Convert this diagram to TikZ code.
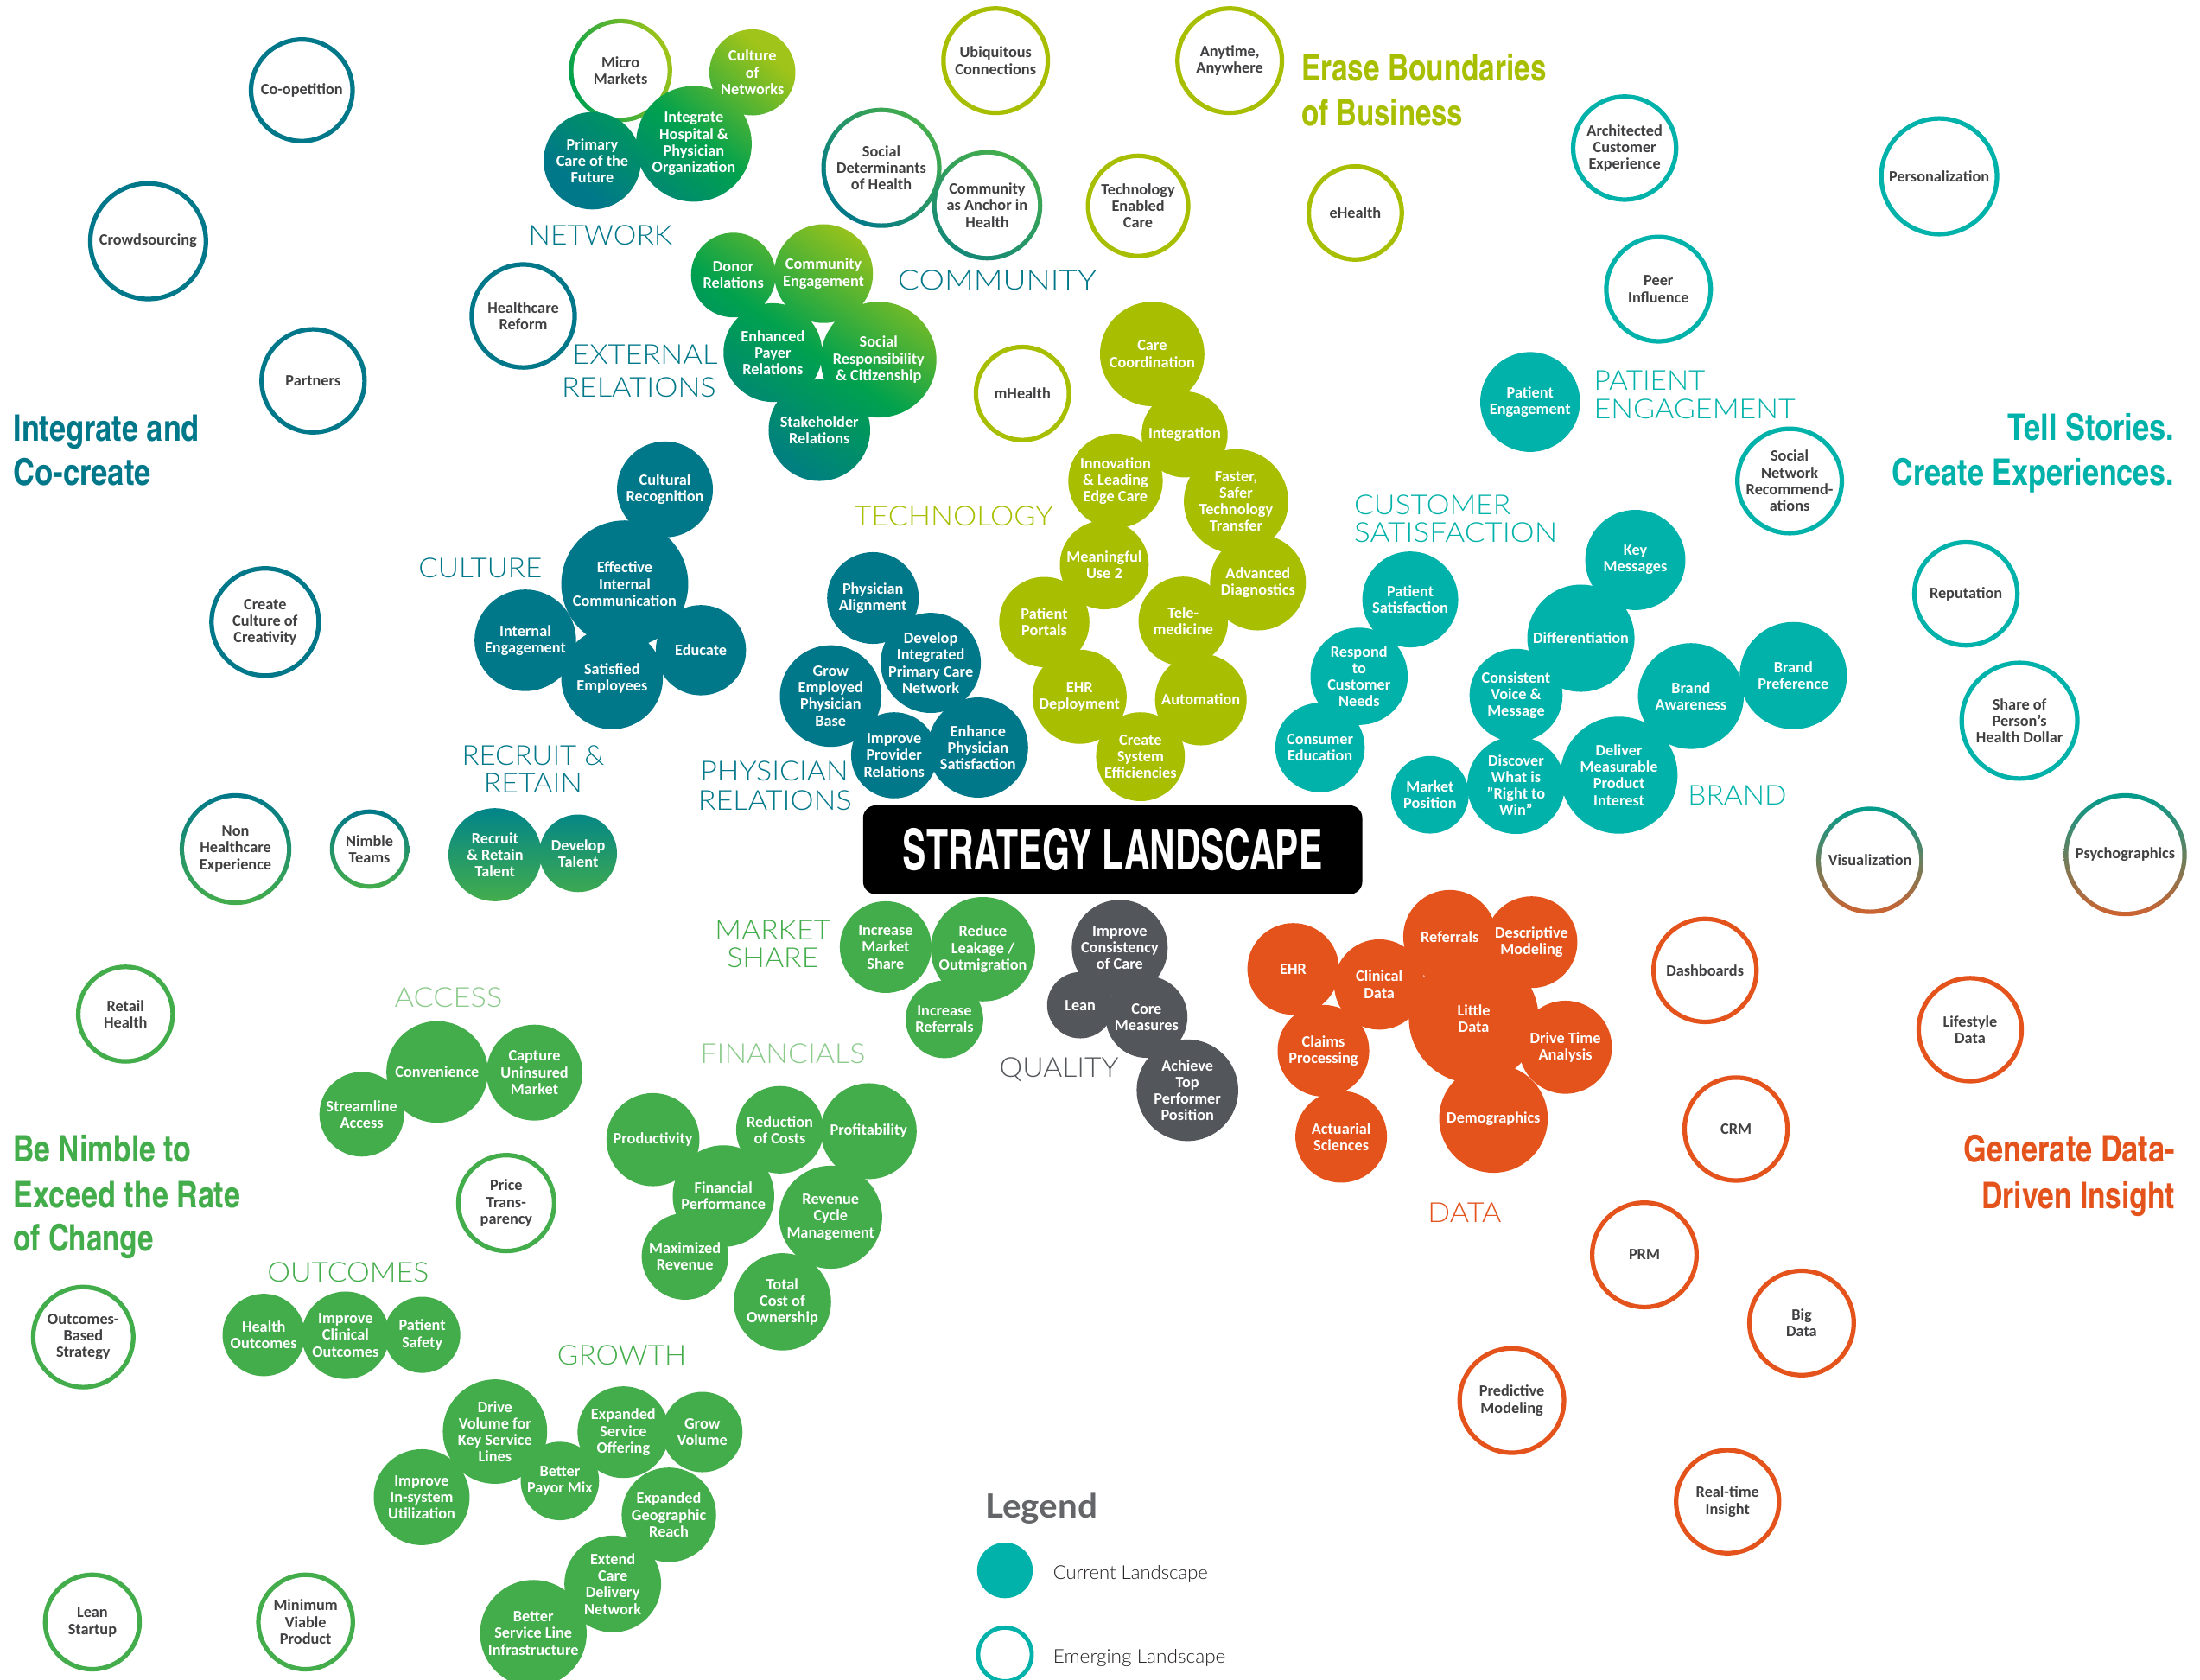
\documentclass[tikz,border=0pt]{standalone}
\usepackage{fontspec}
\usepackage{graphicx}
\setmainfont{Carlito}
\IfFontExistsTF{Lato Light}{\newfontfamily\grpfont{Lato Light}}{\newfontfamily\grpfont{Lato}}
\newfontfamily\legfont{Lato}
\newfontfamily\headfont{texgyreheroscn-bold.otf}
\definecolor{darkteal}{HTML}{00788A}
\definecolor{tealc}{HTML}{00B2A9}
\definecolor{limec}{HTML}{A8BE00}
\definecolor{greenc}{HTML}{44AD4B}
\definecolor{midgreen}{HTML}{00A14E}
\definecolor{limegreen}{HTML}{A0C419}
\definecolor{grayc}{HTML}{53565A}
\definecolor{orangec}{HTML}{E4531B}
\definecolor{lightgreen}{HTML}{8CCB8C}
\definecolor{labgray}{HTML}{404042}
\definecolor{leggray}{HTML}{646568}
\definecolor{vistop}{HTML}{009C8C}
\definecolor{visbot}{HTML}{CF6230}
\definecolor{recruittop}{HTML}{00848A}
\definecolor{nearblack}{HTML}{231F20}

\makeatletter
\newcommand\alltexts{}
\newcommand\addtext[1]{\g@addto@macro\alltexts{#1}}
\makeatother

\newsavebox\fitbox
\newcommand\fitw[2]{\sbox\fitbox{#2}\pgfmathsetmacro\fitsx{#1/\the\wd\fitbox}\scalebox{\fitsx}[1]{\usebox\fitbox}}
\newcommand\labfnt{\bfseries\fontsize{11.2}{11.8}\selectfont}

% filled (current) bubble: colour, name, position, radius, text
\newcommand\cb[5]{%
  \node[bub, fill=#1, minimum size=2*#4pt] (#2) at (#3) {};
  \addtext{\node[curtext] (t#2) at (#2) {#5};}}
% transparent bubble over a shaded cluster: name, position, radius, text
\newcommand\tb[4]{%
  \node[bub, minimum size=2*#3pt] (#1) at (#2) {};
  \addtext{\node[curtext] (t#1) at (#1) {#4};}}
% outlined (emerging) bubble: colour, name, position, radius, text
\newcommand\eb[5]{%
  \node[bub, draw=#1, line width=3.2pt, fill=white, minimum size=2*#4pt] (#2) at (#3) {};
  \addtext{\node[emgtext] (t#2) at (#2) {#5};}}
% outlined bubble with gradient ring: top, bottom, angle, name, position, radius, text
\newcommand\gb[7]{%
  \shade[top color=#1, bottom color=#2, shading angle=#3] (#5) circle[radius=#6pt+1.6pt];
  \node[bub, fill=white, minimum size=2*#6pt-3.2pt] (#4) at (#5) {};
  \addtext{\node[emgtext] (t#4) at (#4) {#7};}}

\begin{document}
\begin{tikzpicture}[x=1pt, y=-1pt,
  bub/.style={circle, inner sep=0pt, outer sep=0pt},
  curtext/.style={align=center, text=white, font=\labfnt, inner sep=0pt},
  emgtext/.style={align=center, text=labgray, font=\labfnt, inner sep=0pt},
  grp/.style={font=\grpfont\fontsize{19.5}{20}\selectfont, inner sep=0pt, anchor=base west},
  head/.style={font=\headfont\fontsize{26}{30}\selectfont, inner sep=0pt, anchor=base west},
  legtext/.style={font=\grpfont\fontsize{13.5}{14}\selectfont, inner sep=0pt, anchor=base west, text=nearblack}]
\fill[white] (0,0) rectangle (1560,1191);
\useasboundingbox (0,0) rectangle (1560,1191);

% ---------------- emerging landscape ----------------
\eb{darkteal}{coop}{214,64}{36}{Co-opetition}
\eb{darkteal}{crowd}{105,171}{41}{Crowdsourcing}
\eb{darkteal}{partners}{222,270}{36.5}{Partners}
\eb{darkteal}{hcreform}{371,224}{36.5}{Healthcare\\Reform}
\eb{darkteal}{creativity}{188,441}{38}{Create\\Culture of\\Creativity}
\gb{darkteal}{greenc}{0}{nonhc}{167,602}{38}{Non\\Healthcare\\Experience}
\gb{darkteal}{greenc}{0}{nimble}{262,602}{26.5}{Nimble\\Teams}
\eb{greenc}{retail}{89,719}{33.5}{Retail\\Health}
\eb{greenc}{outbased}{59,948}{35.5}{Outcomes-\\Based\\Strategy}
\eb{greenc}{leanstart}{65.5,1150}{33.5}{Lean\\Startup}
\eb{greenc}{mvp}{216.7,1150}{33.5}{Minimum\\Viable\\Product}
\eb{greenc}{price}{359,853}{34}{Price\\Trans-\\parency}
\gb{limegreen}{midgreen}{-70}{micro}{440,50}{35}{Micro\\Markets}
\eb{limec}{ubiq}{706,43}{37}{Ubiquitous\\Connections}
\eb{limec}{anytime}{872,43}{37}{Anytime,\\Anywhere}
\gb{greenc}{darkteal}{-45}{socdet}{625,119}{41}{Social\\Determinants\\of Health}
\gb{greenc}{darkteal!70!greenc}{-30}{commanchor}{700,145.5}{37.5}{Community\\as Anchor in\\Health}
\eb{limec}{techen}{807,146}{35.5}{Technology\\Enabled\\Care}
\eb{limec}{ehealth}{961,151}{33}{eHealth}
\eb{limec}{mhealth}{725,279}{33}{mHealth}
\eb{tealc}{archcx}{1152,105}{36.5}{Architected\\Customer\\Experience}
\eb{tealc}{personal}{1375,125}{41}{Personalization}
\eb{tealc}{peer}{1176,205}{37}{Peer\\Influence}
\eb{tealc}{socnet}{1269,341}{37}{Social\\Network\\Recommend-\\ations}
\eb{tealc}{reput}{1394,421}{36.5}{Reputation}
\eb{tealc}{shareof}{1432,511}{41}{Share of\\Person's\\Health Dollar}
\gb{vistop}{visbot}{0}{visual}{1326,610}{36.5}{Visualization}
\gb{vistop}{visbot}{0}{psycho}{1507,606}{42}{Psychographics}
\eb{orangec}{dashb}{1209,688}{36.5}{Dashboards}
\eb{orangec}{lifestyle}{1397,730}{36.5}{Lifestyle\\Data}
\eb{orangec}{crm}{1231,800.5}{36.5}{CRM}
\eb{orangec}{prm}{1166,889.7}{37}{PRM}
\eb{orangec}{bigdata}{1277.5,938}{37}{Big\\Data}
\eb{orangec}{predictive}{1072,993}{37}{Predictive\\Modeling}
\eb{orangec}{realtime}{1225,1064.7}{36.5}{Real-time\\Insight}

% ---------------- NETWORK (shaded) ----------------
\begin{scope}
\clip (533.5,51.3) circle[radius=30.5pt] (492,102) circle[radius=41pt] (420,114) circle[radius=34.5pt];
\shade[top color=limegreen, bottom color=darkteal, middle color=midgreen, shading angle=-40] (380,15) rectangle (568,150);
\end{scope}
\tb{culturenet}{533.5,51.3}{30.5}{Culture\\of\\Networks}
\tb{integrate}{492,102}{41}{Integrate\\Hospital \&\\Physician\\Organization}
\tb{primary}{420,114}{34.5}{Primary\\Care of the\\Future}

% ---------------- EXTERNAL RELATIONS (shaded) ----------------
\begin{scope}
\clip (520,195) circle[radius=30pt] (584,194) circle[radius=35pt] (548,250) circle[radius=35pt] (623,255) circle[radius=41pt] (581,305) circle[radius=36pt];
\shade[top color=limegreen, bottom color=darkteal, middle color=midgreen, shading angle=-35] (488,158) rectangle (666,342);
\end{scope}
\tb{donor}{520,195}{30}{Donor\\Relations}
\tb{commeng}{584,194}{35}{Community\\Engagement}
\tb{payer}{548,250}{35}{Enhanced\\Payer\\Relations}
\tb{socresp}{623,255}{41}{Social\\Responsibility\\\& Citizenship}
\tb{stakeholder}{581,305}{36}{Stakeholder\\Relations}

% ---------------- RECRUIT & RETAIN (shaded) ----------------
\begin{scope}
\clip (351,606) circle[radius=33pt] (410,605) circle[radius=27.5pt];
\shade[top color=recruittop, bottom color=greenc] (316,572) rectangle (440,640);
\end{scope}
\tb{recruit}{351,606}{33}{Recruit\\\& Retain\\Talent}
\tb{develop}{410,605}{27.5}{Develop\\Talent}

% ---------------- TECHNOLOGY ----------------
\cb{limec}{carecoord}{817,251}{37}{Care\\Coordination}
\cb{limec}{integration}{840,308}{30.5}{Integration}
\cb{limec}{innovation}{791,341}{33.5}{Innovation\\\& Leading\\Edge Care}
\cb{limec}{faster}{876.5,355.5}{37}{Faster,\\Safer\\Technology\\Transfer}
\cb{limec}{meaningful}{783,400.5}{31.5}{Meaningful\\Use 2}
\cb{limec}{advdiag}{892,413}{34}{Advanced\\Diagnostics}
\cb{limec}{portals}{740.5,441}{32}{Patient\\Portals}
\cb{limec}{telemed}{839,440.5}{31.7}{Tele-\\medicine}
\cb{limec}{ehrdep}{765.5,494}{33.4}{EHR\\Deployment}
\cb{limec}{automation}{851.5,496}{32.5}{Automation}
\cb{limec}{createsys}{808.7,536.5}{31.5}{Create\\System\\Efficiencies}

% ---------------- CULTURE ----------------
\cb{darkteal}{culturalrec}{471.5,347}{34}{Cultural\\Recognition}
\cb{darkteal}{effective}{443,414}{45}{Effective\\Internal\\Communication}
\cb{darkteal}{internaleng}{372.5,454}{36}{Internal\\Engagement}
\cb{darkteal}{educate}{497,461}{32}{Educate}
\cb{darkteal}{satisfied}{434,481}{36}{Satisfied\\Employees}

% ---------------- PHYSICIAN RELATIONS ----------------
\cb{darkteal}{physalign}{619,424}{32.5}{Physician\\Alignment}
\cb{darkteal}{devint}{660,470}{35.5}{Develop\\Integrated\\Primary Care\\Network}
\cb{darkteal}{growemp}{589,493.5}{36}{Grow\\Employed\\Physician\\Base}
\cb{darkteal}{improveprov}{634,535.5}{30.5}{Improve\\Provider\\Relations}
\cb{darkteal}{enhancephys}{693.5,530}{35.5}{Enhance\\Physician\\Satisfaction}

% ---------------- CUSTOMER SATISFACTION / PATIENT ENGAGEMENT ----------------
\cb{tealc}{patsat}{1000,425}{34}{Patient\\Satisfaction}
\cb{tealc}{respond}{963.7,479.5}{34.5}{Respond\\to\\Customer\\Needs}
\cb{tealc}{consumered}{936,530}{31.7}{Consumer\\Education}
\cb{tealc}{pateng}{1085,285}{35.4}{Patient\\Engagement}

% ---------------- BRAND ----------------
\cb{tealc}{keymsg}{1159.6,397}{35.5}{Key\\Messages}
\cb{tealc}{differ}{1121,452.5}{38}{Differentiation}
\cb{tealc}{consistent}{1075,493}{33}{Consistent\\Voice \&\\Message}
\cb{tealc}{brandaw}{1199,493.5}{37.5}{Brand\\Awareness}
\cb{tealc}{brandpref}{1271.6,479}{38}{Brand\\Preference}
\cb{tealc}{marketpos}{1014,563.5}{27.5}{Market\\Position}
\cb{tealc}{discover}{1075,556.7}{34.6}{Discover\\What is\\"Right to\\Win"}
\cb{tealc}{deliver}{1148,549.6}{41.5}{Deliver\\Measurable\\Product\\Interest}

% ---------------- MARKET SHARE ----------------
\cb{greenc}{incmkt}{628,671.5}{32.5}{Increase\\Market\\Share}
\cb{greenc}{reduceleak}{697,673}{37}{Reduce\\Leakage /\\Outmigration}
\cb{greenc}{incref}{669.7,722.7}{27.5}{Increase\\Referrals}

% ---------------- QUALITY ----------------
\cb{grayc}{improvecons}{794,672}{34}{Improve\\Consistency\\of Care}
\cb{grayc}{lean}{766,712.7}{23.5}{Lean}
\cb{grayc}{core}{813,721}{29}{Core\\Measures}
\cb{grayc}{achieve}{842,773}{36}{Achieve\\Top\\Performer\\Position}

% ---------------- DATA ----------------
\cb{orangec}{ehrdata}{917,687}{32.5}{EHR}
\cb{orangec}{clinical}{978,698}{32}{Clinical\\Data}
\cb{orangec}{referrals}{1028,664}{33}{Referrals}
\cb{orangec}{descriptive}{1086,668}{32.5}{Descriptive\\Modeling}
\cb{orangec}{littledata}{1045,722}{46}{Little\\Data}
\cb{orangec}{claims}{938.4,745}{32.5}{Claims\\Processing}
\cb{orangec}{drivetime}{1110,742.5}{33}{Drive Time\\Analysis}
\cb{orangec}{demographics}{1059,793}{38.5}{Demographics}
\cb{orangec}{actuarial}{951,806}{32.5}{Actuarial\\Sciences}

% ---------------- ACCESS ----------------
\cb{greenc}{convenience}{310,760}{36}{Convenience}
\cb{greenc}{capture}{379,760.5}{34}{Capture\\Uninsured\\Market}
\cb{greenc}{streamline}{256.5,790}{30}{Streamline\\Access}

% ---------------- FINANCIALS ----------------
\cb{greenc}{productivity}{463,808}{33}{Productivity}
\cb{greenc}{reduction}{553,801}{31}{Reduction\\of Costs}
\cb{greenc}{profitability}{616,802}{34}{Profitability}
\cb{greenc}{finperf}{513,848}{36}{Financial\\Performance}
\cb{greenc}{revenue}{589,863}{36.5}{Revenue\\Cycle\\Management}
\cb{greenc}{maximized}{485.7,890.8}{30.7}{Maximized\\Revenue}
\cb{greenc}{totalcost}{554.8,923}{34.5}{Total\\Cost of\\Ownership}

% ---------------- OUTCOMES ----------------
\cb{greenc}{healthout}{187,946.5}{29.2}{Health\\Outcomes}
\cb{greenc}{improveclin}{245,946.7}{31}{Improve\\Clinical\\Outcomes}
\cb{greenc}{patsafety}{299.4,946.4}{27}{Patient\\Safety}

% ---------------- GROWTH ----------------
\cb{greenc}{drivevol}{351,1015}{37}{Drive\\Volume for\\Key Service\\Lines}
\cb{greenc}{insystem}{299,1061.5}{34}{Improve\\In-system\\Utilization}
\cb{greenc}{payormix}{397,1050}{27.8}{Better\\Payor Mix}
\cb{greenc}{expserv}{442,1015.4}{32.5}{Expanded\\Service\\Offering}
\cb{greenc}{growvol}{498,1015.3}{28.5}{Grow\\Volume}
\cb{greenc}{expgeo}{474.3,1074}{33.5}{Expanded\\Geographic\\Reach}
\cb{greenc}{extendcare}{434.5,1123}{34.3}{Extend\\Care\\Delivery\\Network}
\cb{greenc}{betterserv}{378.2,1158}{37.8}{Better\\Service Line\\Infrastructure}

% ---------------- title box ----------------
\node[fill=black, rounded corners=9pt, minimum width=354pt, minimum height=63pt, inner sep=0pt,
      text=white, font=\headfont\fontsize{40}{40}\selectfont] (title) at (789,602.5)
      {\fitw{297.5}{STRATEGY LANDSCAPE}};

% ---------------- bubble texts ----------------
\alltexts

% ---------------- group labels ----------------
\node[grp, text=darkteal] (gnet) at (374.6,173.6) {\fitw{102}{NETWORK}};
\node[grp, text=darkteal, anchor=base east] (gext1) at (509,258) {\fitw{103}{EXTERNAL}};
\node[grp, text=darkteal, anchor=base east] (gext2) at (508,281.5) {\fitw{109.5}{RELATIONS}};
\node[grp, text=darkteal] (gcom) at (636.4,205.3) {\fitw{141}{COMMUNITY}};
\node[grp, text=limec] (gtech) at (605.5,373) {\fitw{141}{TECHNOLOGY}};
\node[grp, text=darkteal] (gcult) at (296.6,409.7) {\fitw{87.6}{CULTURE}};
\node[grp, text=darkteal, anchor=base] (grec1) at (378,542.3) {\fitw{101}{RECRUIT \&}};
\node[grp, text=darkteal, anchor=base] (grec2) at (378,562) {\fitw{70}{RETAIN}};
\node[grp, text=darkteal, anchor=base] (gphy1) at (549,553.7) {\fitw{105}{PHYSICIAN}};
\node[grp, text=darkteal, anchor=base] (gphy2) at (549.5,574.7) {\fitw{109}{RELATIONS}};
\node[grp, text=tealc] (gcus1) at (960,364.6) {\fitw{111}{CUSTOMER}};
\node[grp, text=tealc] (gcus2) at (960,384.4) {\fitw{144}{SATISFACTION}};
\node[grp, text=tealc] (gpat1) at (1130,276.5) {\fitw{79}{PATIENT}};
\node[grp, text=tealc] (gpat2) at (1130,296.8) {\fitw{143}{ENGAGEMENT}};
\node[grp, text=tealc] (gbrand) at (1196.7,570.5) {\fitw{70}{BRAND}};
\node[grp, text=greenc, anchor=base] (gmkt1) at (548,666.3) {\fitw{82}{MARKET}};
\node[grp, text=greenc, anchor=base] (gmkt2) at (548,686) {\fitw{65}{SHARE}};
\node[grp, text=grayc] (gqual) at (708.5,764) {\fitw{84.5}{QUALITY}};
\node[grp, text=orangec] (gdata) at (1012.3,866.4) {\fitw{52}{DATA}};
\node[grp, text=lightgreen] (gacc) at (279.6,714.4) {\fitw{76.4}{ACCESS}};
\node[grp, text=lightgreen, anchor=base east] (gfin) at (613.8,754) {\fitw{117}{FINANCIALS}};
\node[grp, text=greenc] (gout) at (189.3,909) {\fitw{114.6}{OUTCOMES}};
\node[grp, text=greenc] (ggrow) at (395,968) {\fitw{91.5}{GROWTH}};

% ---------------- headlines ----------------
\node[head, text=darkteal] (h1a) at (9.3,312.5) {\fitw{132}{Integrate and}};
\node[head, text=darkteal] (h1b) at (9.3,344) {\fitw{97.6}{Co-create}};
\node[head, text=limec] (h2a) at (922.7,57.2) {\fitw{173.7}{Erase Boundaries}};
\node[head, text=limec] (h2b) at (922.7,88.9) {\fitw{114.6}{of Business}};
\node[head, text=tealc, anchor=base east] (h3a) at (1542,312) {\fitw{118}{Tell Stories.}};
\node[head, text=tealc, anchor=base east] (h3b) at (1542,344) {\fitw{200}{Create Experiences.}};
\node[head, text=greenc] (h4a) at (9.3,824) {\fitw{126}{Be Nimble to}};
\node[head, text=greenc] (h4b) at (9.3,856) {\fitw{161}{Exceed the Rate}};
\node[head, text=greenc] (h4c) at (9.3,887) {\fitw{99.6}{of Change}};
\node[head, text=orangec, anchor=base east] (h5a) at (1542.5,824) {\fitw{149.8}{Generate Data-}};
\node[head, text=orangec, anchor=base east] (h5b) at (1542.5,856.6) {\fitw{137}{Driven Insight}};

% ---------------- legend ----------------
\node[font=\legfont\bfseries\fontsize{23.6}{24}\selectfont, text=leggray, inner sep=0pt, anchor=base west] (legend) at (698.5,1076) {\fitw{79.5}{Legend}};
\node[bub, fill=tealc, minimum size=39.4pt] (legcur) at (712.6,1113.4) {};
\node[bub, draw=tealc, line width=3pt, fill=white, minimum size=38pt] (legemg) at (712.6,1173) {};
\node[legtext] (legcurt) at (746.6,1119.7) {\fitw{109.7}{Current Landscape}};
\node[legtext] (legemgt) at (746.6,1179) {\fitw{122.3}{Emerging Landscape}};
\end{tikzpicture}
\end{document}
